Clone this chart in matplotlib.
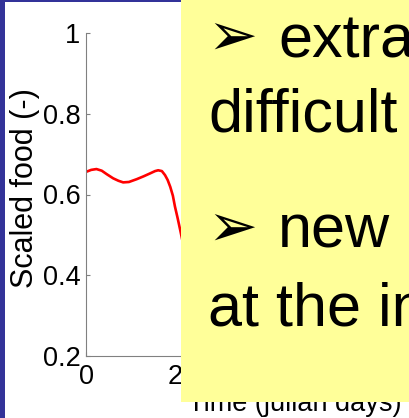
import matplotlib
matplotlib.use("Agg")
import matplotlib.pyplot as plt
from matplotlib.patches import Rectangle

# ---- data ----
days = [0, 10, 20, 30, 40, 52, 62, 71, 82, 97, 110, 122, 132, 138, 145, 151, 156, 161, 166, 170, 175, 180, 190]
food = [0.656, 0.661, 0.663, 0.659, 0.650, 0.640, 0.634, 0.630, 0.631, 0.638, 0.645, 0.652, 0.658, 0.660,
        0.658, 0.648, 0.636, 0.619, 0.597, 0.570, 0.542, 0.512, 0.45]
xticks = [0, 200, 400]
xticklabels = ["0", "200", "400"]
yticks = [0.2, 0.4, 0.6, 0.8, 1.0]
yticklabels = ["0.2", "0.4", "0.6", "0.8", "1"]
bullet_lines = ["extra", "new"]
cont_lines = ["difficult", "at the in"]

W, H = 409, 418
fig = plt.figure(figsize=(W / 100, H / 100), dpi=100)
fig.patch.set_facecolor("white")

def fx(px):
    return px / W

def fy(py):
    return 1 - py / H

# blue slide border
fig.add_artist(Rectangle((0, 0), fx(5), 1, transform=fig.transFigure, facecolor="#333399",
                         edgecolor="none", zorder=1))
fig.add_artist(Rectangle((0, fy(2)), 1, 2 / H, transform=fig.transFigure,
                         facecolor="#333399", edgecolor="none", zorder=1))

ax = fig.add_axes([fx(86), fy(356), fx(400) - fx(86), fy(33) - fy(356)])
ax.plot(days, food, color="red", lw=1.9)
ax.set_xlim(0, 600)
ax.set_ylim(0.2, 1.0)
ax.set_xticks(xticks)
ax.set_xticklabels(xticklabels)
ax.set_yticks(yticks)
ax.set_yticklabels(yticklabels)
for s in ["top", "right"]:
    ax.spines[s].set_visible(False)
for s in ["left", "bottom"]:
    ax.spines[s].set_color("#808080")
    ax.spines[s].set_linewidth(0.8)
ax.tick_params(direction="in", length=3, width=0.8, color="#808080", labelsize=19.5,
               labelcolor="black")
ax.tick_params(axis="x", pad=6)
ax.tick_params(axis="y", pad=4)
for lab in ax.get_xticklabels() + ax.get_yticklabels():
    lab.set_fontfamily("Liberation Sans")
ax.set_xlabel("Time (julian days)", fontsize=19.5, fontfamily="Liberation Sans")
ax.set_ylabel("Scaled food (-)", fontsize=22, fontfamily="Liberation Sans")
ax.xaxis.set_label_coords((295 - 86) / 314, (356 - 411) / 323)
ax.xaxis.label.set_va("baseline")
ax.yaxis.set_label_coords((40 - 86) / 314, (356 - 188) / 323)

# yellow overlay box
fig.add_artist(Rectangle((fx(181), fy(402)), 1 - fx(181), fy(0) - fy(402), transform=fig.transFigure,
                         facecolor="#FFFF99", edgecolor="none", zorder=5))

# bullet text
arrow_y = [55, 246]
word_y = [57, 248]
cont_y = [132, 325]
for txt, ay, wy in zip(bullet_lines, arrow_y, word_y):
    fig.text(fx(207), fy(ay), "\u27a2", fontsize=43, fontfamily="DejaVu Sans", va="baseline",
             ha="left", zorder=6)
    fig.text(fx(278), fy(wy), txt, fontsize=44, fontfamily="Liberation Sans", va="baseline",
             ha="left", zorder=6)
for txt, by in zip(cont_lines, cont_y):
    fig.text(fx(208), fy(by), txt, fontsize=44, fontfamily="Liberation Sans", va="baseline",
             ha="left", zorder=6)

fig.savefig("out.png", dpi=100)
